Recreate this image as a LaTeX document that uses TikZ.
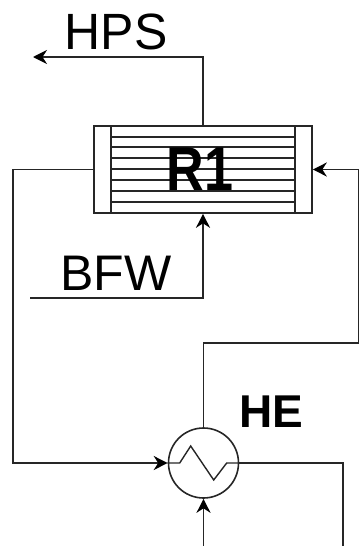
\documentclass[tikz,border=0pt]{standalone}
\usepackage{fontspec}
\setmainfont{Liberation Sans}
\usetikzlibrary{arrows.meta,calc}
\definecolor{ln}{gray}{0.15}
\tikzset{
  x=1pt,y=-1pt,
  wire/.style={draw=ln,line width=1.6pt},
  flow/.style={wire,-{Stealth[length=14pt,width=14pt,inset=4.5pt,color=black]}},
  vessel/.style={draw=ln,line width=1.6pt,rectangle,minimum width=218pt,minimum height=87pt,inner sep=0pt},
  exch/.style={draw=ln,line width=1.6pt,circle,minimum size=70pt,inner sep=0pt},
  inner/.style={draw=ln,line width=1.5pt},
  lab/.style={inner sep=0pt,text=black},
}
\begin{document}
\begin{tikzpicture}
\useasboundingbox (0,0) rectangle (359,546);
% R1 vessel
\node[vessel] (R) at (203,169.5) {};
\foreach \yy in {137,147,158,169,180,191,202} \draw[inner] (111,\yy) -- (295,\yy);
\draw[inner] (111,126) -- (111,213);
\draw[inner] (295,126) -- (295,213);
\node[lab,xscale=.84,transform shape,font=\bfseries\fontsize{62}{62}\selectfont] (Rl) at (200,169.5) {R1};
% HE
\node[exch] (H) at (203.5,463) {};
\draw[wire,line width=1.4pt] (H.west) -- ++(12,0) -- ++(11,-17) -- ++(23,34) -- ++(13,-17) -- (H.east);
\node[lab,font=\bfseries\fontsize{46}{46}\selectfont] (Hl) at (271.5,412) {HE};
% free ends
\coordinate (hpsEnd) at (33,57);
\coordinate (bfwStart) at (30,298);
\coordinate (botIn) at (203.5,546);
\coordinate (botOut) at (343,546);
% connectors
\draw[flow] (R.north) -- (R.north |- hpsEnd) -- (hpsEnd);
\draw[flow] (bfwStart) -| (R.south);
\draw[flow] (R.west) -- (13,169.5) -- (13,463) -- (H.west);
\draw[flow] (H.north) -- (203.5,343) -- (358.5,343) -- (358.5,169.5) -- (R.east);
\draw[flow] (botIn) -- (H.south);
\draw[wire] (H.east) -| (botOut);
% labels
\node[lab,xscale=.98,transform shape,font=\fontsize{51}{51}\selectfont] (hps) at (116,31.5) {HPS};
\node[lab,font=\fontsize{50}{50}\selectfont] (bfw) at (116,273) {BFW};
\end{tikzpicture}
\end{document}
